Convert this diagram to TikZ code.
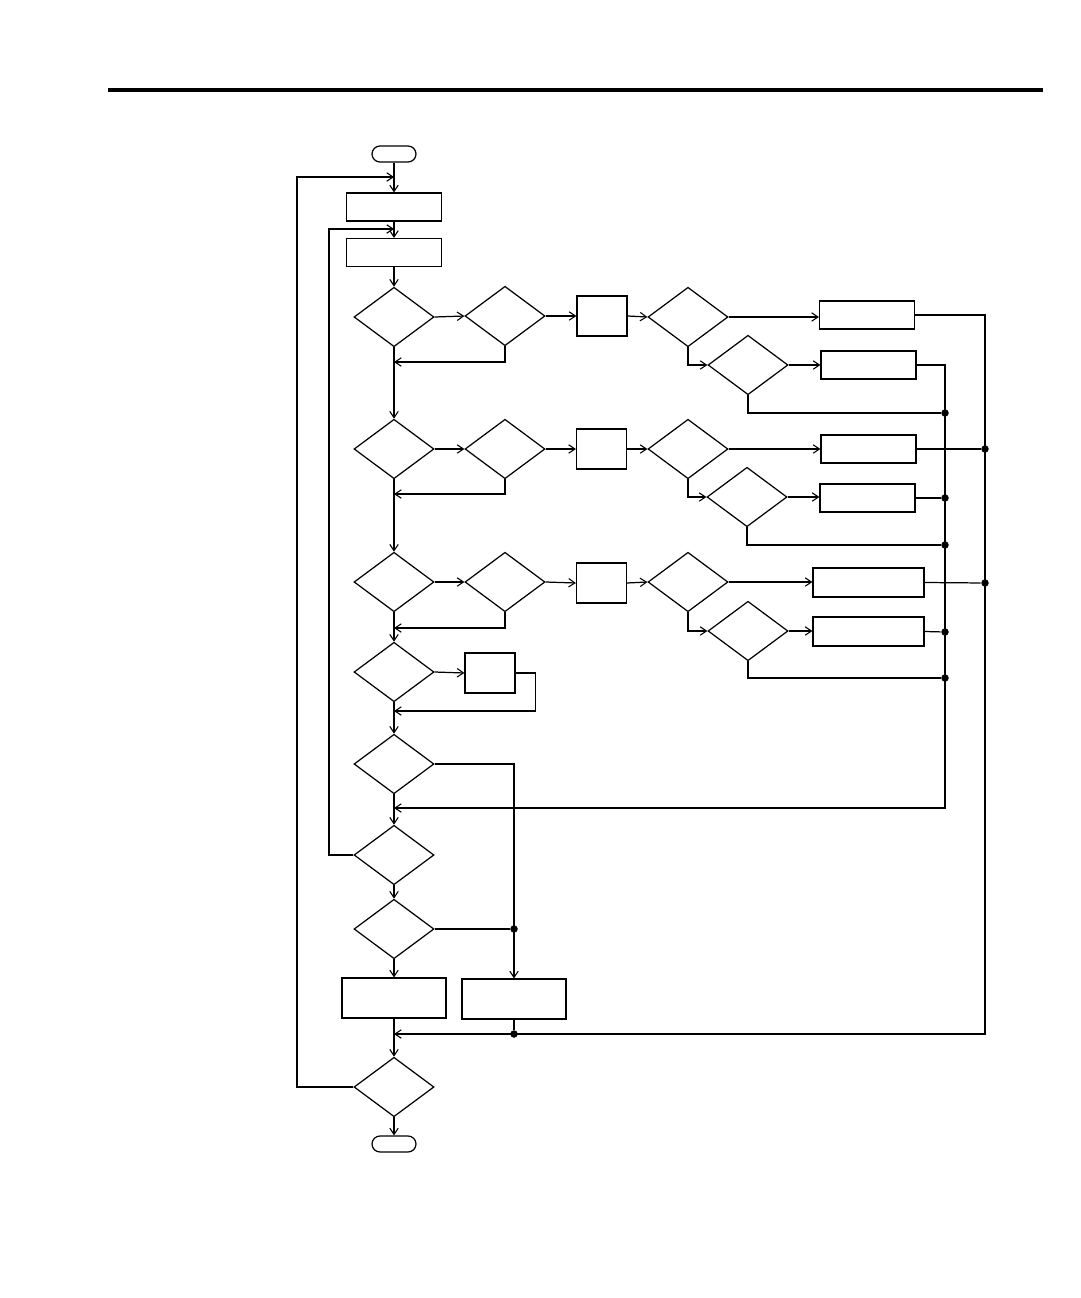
\documentclass[tikz,border=0pt]{standalone}
\usetikzlibrary{shapes.geometric,arrows.meta}
\begin{document}
\begin{tikzpicture}[x=0.02cm,y=-0.02cm,
  line width=0.7pt,
  >={Straight Barb[length=3.6pt,width=4.8pt,line width=0.6pt]},
  dia/.style={draw,diamond,inner sep=0pt,minimum width=1.6cm,minimum height=1.19cm},
  box/.style={draw,rectangle,inner sep=0pt,minimum width=#1},
  box/.default=1.9cm,
  tall/.style={minimum height=0.56cm},
  sbox/.style={draw,rectangle,inner sep=0pt,minimum width=1cm,minimum height=0.8cm},
  term/.style={draw,rectangle,rounded corners=0.16cm,inner sep=0pt,minimum width=0.88cm,minimum height=0.32cm},
  jdot/.style={circle,fill,inner sep=0pt,minimum size=0.15cm}]
\useasboundingbox (0,0) rectangle (1080,1298);
% top rule
\coordinate (ruleL) at (108,90);
\coordinate (ruleR) at (1043,90);
\draw[line width=4pt*0.567] (ruleL) -- (ruleR);

% main column
\node[term] (t1) at (394,154) {};
\node[box,tall] (b1) at (394,207) {};
\node[box,tall] (b2) at (394,252.5) {};
\node[dia] (d1) at (394,317) {};
\node[dia] (d2) at (394,449) {};
\node[dia] (d3) at (394,582) {};
\node[dia] (d4) at (394,672) {};
\node[dia] (d5) at (394,764) {};
\node[dia] (d6) at (394,855) {};
\node[dia] (d7) at (394,929) {};
\node[box=2.08cm,minimum height=0.8cm] (bl) at (394,998) {};
\node[box=2.08cm,minimum height=0.8cm] (br) at (514,999) {};
\node[dia] (d8) at (394,1087) {};
\node[term] (t2) at (394,1144) {};

% row 1
\node[dia] (d1b) at (505,316) {};
\node[sbox] (s1) at (602,316) {};
\node[dia] (d1c) at (688,317) {};
\node[box,tall] (r1a) at (867,315) {};
\node[dia] (d1d) at (748,365) {};
\node[box,tall] (r1b) at (868.5,365) {};
% row 2
\node[dia] (d2b) at (505,449) {};
\node[sbox] (s2) at (601.5,449) {};
\node[dia] (d2c) at (688,449) {};
\node[box,tall] (r2a) at (868.5,449) {};
\node[dia] (d2d) at (747,497) {};
\node[box,tall] (r2b) at (867.5,498) {};
% row 3
\node[dia] (d3b) at (505,582) {};
\node[sbox] (s3) at (601.5,583) {};
\node[dia] (d3c) at (688,582) {};
\node[box=2.22cm,minimum height=0.58cm] (r3a) at (868.5,582.5) {};
\node[dia] (d3d) at (748,631) {};
\node[box=2.22cm,minimum height=0.58cm] (r3b) at (868.5,631.5) {};
% row 4
\node[sbox] (s4) at (490,673) {};

% junction coordinates / dots
\coordinate (L1) at (297,177);
\coordinate (L2) at (329,229);
\coordinate (m1) at (394,362);
\coordinate (m2) at (394,494);
\coordinate (m3) at (394,628);
\coordinate (m4) at (394,711);
\coordinate (m5) at (394,808);
\coordinate (m6) at (394,1034);
\coordinate (k5) at (945,808);
\coordinate (k6) at (985,1034);
\node[jdot] (j11) at (945,413) {};
\node[jdot] (j21) at (985,449) {};
\node[jdot] (j22) at (945,498) {};
\node[jdot] (j23) at (945,545) {};
\node[jdot] (j31) at (985,583) {};
\node[jdot] (j32) at (945,632) {};
\node[jdot] (j33) at (945,678) {};
\node[jdot] (j7) at (514,929) {};
\node[jdot] (j8) at (514,1034) {};

% main line
\draw[->] (t1.south) -- (b1.north);
\draw[->] (b1.south) -- (b2.north);
\draw[->] (b2.south) -- (d1.north);
\draw[->] (d1.south) -- (d2.north);
\draw[->] (d2.south) -- (d3.north);
\draw[->] (d3.south) -- (d4.north);
\draw[->] (d4.south) -- (d5.north);
\draw[->] (d5.south) -- (d6.north);
\draw[->] (d6.south) -- (d7.north);
\draw[->] (d7.south) -- (bl.north);
\draw[->] (bl.south) -- (d8.north);
\draw[->] (d8.south) -- (t2.north);

% loops back
\draw[->] (d8.west) -| (L1) -- (L1 -| b1.north);
\draw[->] (d6.west) -| (L2) -- (L2 -| b2.north);

% row 1 connectors
\draw[->] (d1.east) -- (d1b.west);
\draw[->] (d1b.east) -- (s1.west);
\draw[->] (d1b.south) |- (m1);
\draw[->] (s1.east) -- (d1c.west);
\draw[->] (d1c.east) -- (d1c.east -| r1a.west);
\draw[->] (d1c.south) |- (d1d.west);
\draw[->] (d1d.east) -- (r1b.west);
\draw (d1d.south) |- (j11);
\draw[->] (r1b.east) -| (k5) -- (m5);
\draw[->] (r1a.east) -| (k6) -- (m6);

% row 2 connectors
\draw[->] (d2.east) -- (d2b.west);
\draw[->] (d2b.east) -- (s2.west);
\draw[->] (d2b.south) |- (m2);
\draw[->] (s2.east) -- (d2c.west);
\draw[->] (d2c.east) -- (r2a.west);
\draw[->] (d2c.south) |- (d2d.west);
\draw[->] (d2d.east) -- (d2d.east -| r2b.west);
\draw (d2d.south) |- (j23);
\draw (r2a.east) -- (j21);
\draw (r2b.east) -- (j22);

% row 3 connectors
\draw[->] (d3.east) -- (d3b.west);
\draw[->] (d3b.east) -- (s3.west);
\draw[->] (d3b.south) |- (m3);
\draw[->] (s3.east) -- (d3c.west);
\draw[->] (d3c.east) -- (d3c.east -| r3a.west);
\draw[->] (d3c.south) |- (d3d.west);
\draw[->] (d3d.east) -- (d3d.east -| r3b.west);
\draw (d3d.south) |- (j33);
\draw (r3a.east) -- (j31);
\draw (r3b.east) -- (j32);

% row 4
\draw[->] (d4.east) -- (s4.west);
\draw[->] (s4.east) -- ++(20,0) |- (m4);

% lower right
\draw[->] (d5.east) -| (br.north);
\draw (d7.east) -- (j7);
\draw (br.south) -- (j8);
\end{tikzpicture}
\end{document}
